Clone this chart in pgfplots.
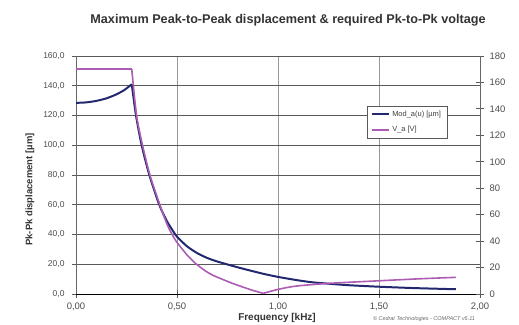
\documentclass[border=0pt]{standalone}
\usepackage{fontspec}
\setmainfont{Liberation Sans}
\usepackage{pgfplots}
\pgfplotsset{compat=1.18}
\definecolor{navyc}{RGB}{33,40,110}
\definecolor{magc}{RGB}{172,92,178}
\begin{document}
\begin{tikzpicture}[x=1bp,y=1bp]
\useasboundingbox (0,0) rectangle (519,324);
\begin{axis}[
  at={(76bp,30bp)}, anchor=south west,
  width=404bp, height=238bp, scale only axis,
  xmin=0, xmax=2, ymin=0, ymax=160,
  axis x line*=bottom, axis y line*=left,
  xtick={0,0.5,1,1.5,2}, ytick={0,20,...,160},
  grid=major,
  y grid style={black!65, line width=0.8pt},
  x grid style={black!40, line width=0.9pt},
  x axis line style={black, line width=0.8pt},
  y axis line style={gray!80!black, line width=0.8pt},
  tick align=center, major tick length=8bp,
  tick style={gray!70!black, line width=0.8pt},
  /pgf/number format/assume math mode=true,
  xticklabel style={font=\fontsize{9.5}{10}\selectfont, text=black!70, /pgf/number format/.cd, fixed, fixed zerofill, precision=2, use comma},
  yticklabel style={font=\fontsize{8.5}{10}\selectfont, text=black!70, xshift=-4bp, /pgf/number format/.cd, fixed, fixed zerofill, precision=1, use comma},
  xticklabel shift=1bp,
]
\addplot[navyc, line width=2pt, smooth, tension=0.4] coordinates {
(0,128.5) (0.05,128.8) (0.10,129.8) (0.15,131.5) (0.20,134.2) (0.24,137.2) (0.276,141)
};
\addplot[navyc, line width=2pt, smooth, tension=0.4] coordinates {
(0.276,141) (0.297,120) (0.325,100) (0.363,80) (0.412,60) (0.45,49) (0.482,42) (0.5,38.5) (0.55,32) (0.6,27.5) (0.65,24.2) (0.7,21.8) (0.762,19.4) (0.81,17.6) (0.861,15.8) (0.93,13.5) (1.0,11.5) (1.09,9.4) (1.175,7.8) (1.34,6.0) (1.5,4.9) (1.67,4.0) (1.88,3.2)
};
\end{axis}
\begin{axis}[
  at={(76bp,30bp)}, anchor=south west,
  width=404bp, height=238bp, scale only axis,
  xmin=0, xmax=2, ymin=0, ymax=180,
  axis y line*=right, axis x line=none,
  ytick={0,20,...,180},
  y axis line style={gray!80!black, line width=0.8pt},
  tick align=center, major tick length=8bp,
  tick style={gray!70!black, line width=0.8pt},
  /pgf/number format/assume math mode=true,
  yticklabel style={font=\fontsize{9.5}{10}\selectfont, text=black!70, xshift=2bp},
  legend style={at={(0.720,0.791)}, anchor=north west, draw=gray!70!black, fill=white,
    font=\fontsize{7.5}{9}\selectfont, text=black!75, inner xsep=4bp, inner ysep=2.5bp, row sep=5bp, line width=0.8pt},
  legend cell align=left,
  legend image code/.code={\draw[#1] (0bp,0bp) -- (17bp,0bp);},
]
\addlegendimage{navyc, line width=2pt}
\addlegendentry{Mod\_a(u) [µm]}
\addplot[magc, line width=1.6pt] coordinates {
(0,170) (0.276,170)
};
\addlegendentry{V\_a [V]}
\addplot[magc, line width=1.6pt, smooth, tension=0.4, forget plot] coordinates {
(0.276,170) (0.300,134.6) (0.330,112) (0.366,89.8) (0.416,67) (0.45,53) (0.474,45.5) (0.5,39) (0.55,29.5) (0.589,23.5) (0.64,17.5) (0.68,14) (0.762,8.8) (0.812,6) (0.87,3) (0.927,0.5)
};
\addplot[magc, line width=1.6pt, smooth, tension=0.4, forget plot] coordinates {
(0.927,0.5) (1.0,3.5) (1.09,6) (1.257,8.1) (1.5,10) (1.7,11.5) (1.88,12.6)
};
\end{axis}
\node[font=\fontsize{12.7}{15}\selectfont\bfseries, text=black!80] at (288,304) {Maximum Peak-to-Peak displacement \& required Pk-to-Pk voltage};
\node[font=\fontsize{9.5}{11}\selectfont\bfseries, text=black!80, rotate=90] at (30,134.5) {Pk-Pk displacement  [µm]};
\node[font=\fontsize{10}{12}\selectfont\bfseries, text=black!80] at (277,6) {Frequency [kHz]};
\node[font=\fontsize{5.5}{6}\selectfont\itshape, text=black!60] at (424,4.5) {© Cedrat Technologies - COMPACT v5.11};
\end{tikzpicture}
\end{document}
